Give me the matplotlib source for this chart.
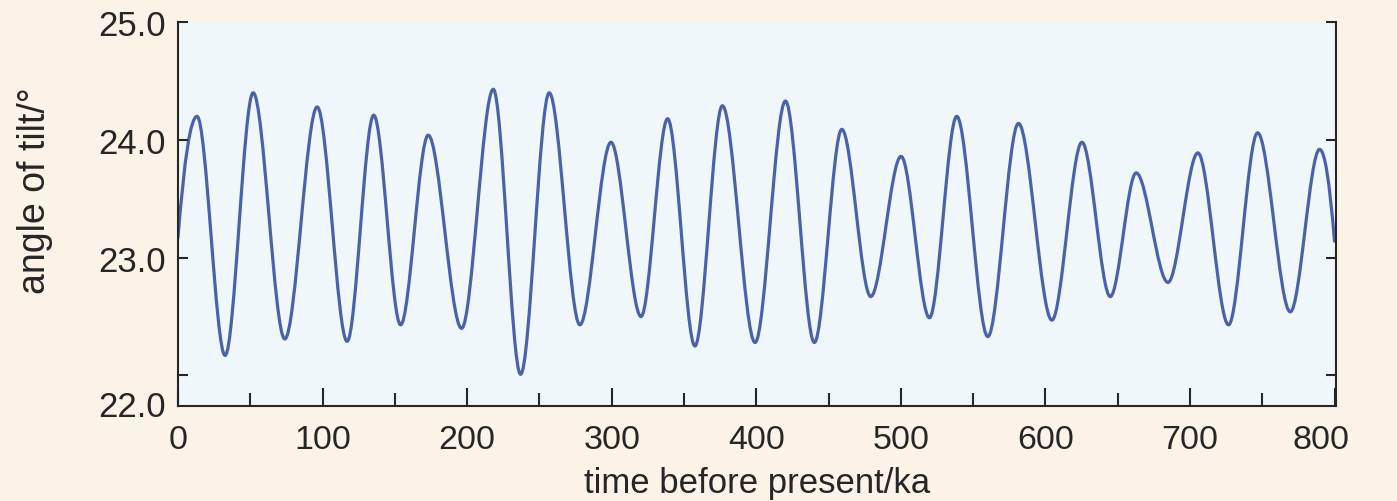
import matplotlib
matplotlib.use("Agg")
import matplotlib.pyplot as plt
import matplotlib.transforms as mtransforms
from matplotlib.path import Path
from matplotlib.patches import PathPatch
from matplotlib.ticker import MultipleLocator

# Values: start, successive peaks/troughs, end
time_ka = [0, 13.2, 32.6, 52.0, 73.9, 96.3, 117.0, 135.4, 154.0, 173.1,
           196.2, 218.1, 237.0, 256.8, 278.0, 299.5, 320.3, 338.7, 357.6, 376.6,
           399.2, 420.2, 440.2, 459.2, 479.2, 500.2, 519.8, 538.7, 560.2, 581.4,
           604.5, 625.3, 644.9, 662.8, 684.8, 705.5, 726.7, 746.8, 769.4, 789.7,
           800]
tilt_deg = [23.17, 24.20, 22.17, 24.40, 22.31, 24.28, 22.29, 24.21, 22.43, 24.04,
            22.40, 24.43, 22.01, 24.40, 22.43, 23.98, 22.50, 24.18, 22.25, 24.29,
            22.28, 24.33, 22.28, 24.09, 22.67, 23.86, 22.49, 24.20, 22.33, 24.14,
            22.47, 23.98, 22.67, 23.72, 22.79, 23.89, 22.43, 24.06, 22.54, 23.92,
            23.14]

x_ticks = [0, 100, 200, 300, 400, 500, 600, 700, 800]
y_ticks = [22, 23, 24, 25]
y_tick_labels = ["", "23.0", "24.0", "25.0"]
bottom_label = "22.0"

FIG_BG = "#fcf3e8"
AX_BG = "#f0f7fb"
LINE_C = "#4a62aa"
INK = "#262626"

plt.rcParams["font.family"] = ["Liberation Sans", "DejaVu Sans"]

fig = plt.figure(figsize=(13.97, 5.02), dpi=100, facecolor=FIG_BG)
ax = fig.add_axes([0.1274, 0.189, 0.8289, 0.765])
ax.set_facecolor(AX_BG)

# smooth curve through the read extrema (horizontal tangents at extrema)
verts = [(time_ka[0], tilt_deg[0])]
codes = [Path.MOVETO]
n = len(time_ka)
for i in range(n - 1):
    x0, y0 = time_ka[i], tilt_deg[i]
    x1, y1 = time_ka[i + 1], tilt_deg[i + 1]
    dx = x1 - x0
    if i == 0:
        verts += [((x0 + x1) / 2, y1), (x1, y1)]
        codes += [Path.CURVE3, Path.CURVE3]
    elif i == n - 2:
        verts += [((x0 + x1) / 2, y0), (x1, y1)]
        codes += [Path.CURVE3, Path.CURVE3]
    else:
        verts += [(x0 + dx / 3, y0), (x1 - dx / 3, y1), (x1, y1)]
        codes += [Path.CURVE4, Path.CURVE4, Path.CURVE4]
ax.add_patch(PathPatch(Path(verts, codes), fill=False, edgecolor=LINE_C,
                       linewidth=2.3, capstyle="round", joinstyle="round"))
# invisible line so the data limits are known to the axes
ax.plot(time_ka, tilt_deg, alpha=0)

ax.set_xlim(0, 801)
ax.set_ylim(21.74, 25)

ax.spines["top"].set_visible(False)
for s in ("left", "right", "bottom"):
    ax.spines[s].set_linewidth(1.5)
    ax.spines[s].set_color(INK)

ax.set_xticks(x_ticks)
ax.set_xticklabels([str(v) for v in x_ticks])
ax.xaxis.set_minor_locator(MultipleLocator(50))
ax.set_yticks(y_ticks)
ax.set_yticklabels(y_tick_labels)

ax.tick_params(axis="x", which="major", direction="in", length=13, width=1.5,
               color=INK, labelsize=24.5, pad=13, labelcolor=INK)
ax.tick_params(axis="x", which="minor", direction="in", length=9.4, width=1.5,
               color=INK)
ax.tick_params(axis="y", which="major", direction="in", length=7, width=1.5,
               color=INK, labelsize=25, pad=9, right=True, labelcolor=INK)

# the last x label sits slightly left of its tick in the reference
last_lbl = ax.get_xticklabels()[-1]
last_lbl.set_transform(last_lbl.get_transform() +
                       mtransforms.ScaledTranslation(-10 / 72, 0, fig.dpi_scale_trans))

ax.annotate(bottom_label, xy=(0, 0), xycoords="axes fraction",
            xytext=(-9, 0), textcoords="offset points",
            ha="right", va="center", fontsize=25, color=INK)

ax.set_xlabel("time before present/ka", fontsize=25, color=INK, labelpad=8)
ax.set_ylabel("angle of tilt/°", fontsize=27, color=INK)
ax.yaxis.set_label_coords(-0.108, 0.565)

fig.savefig("out.png", dpi=100, facecolor=FIG_BG)
